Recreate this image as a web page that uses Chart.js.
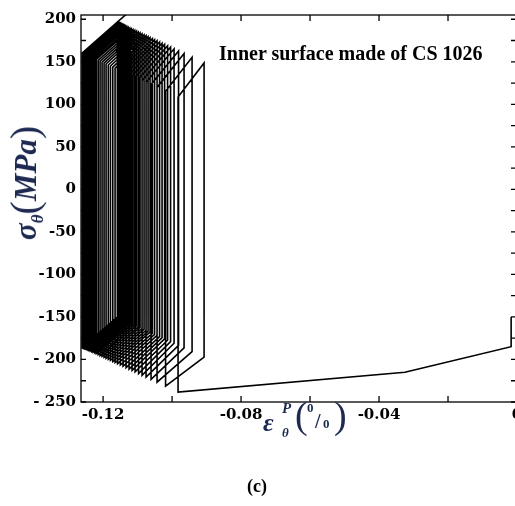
<!DOCTYPE html>
<html>
<head>
<meta charset="utf-8">
<script src="https://cdn.jsdelivr.net/npm/chart.js@4.4.1/dist/chart.umd.min.js"></script>
<style>
  html, body { margin: 0; padding: 0; background: #fff; overflow: hidden; }
  #wrap { position: relative; width: 515px; height: 506px; overflow: hidden; }
  #plot { position: absolute; left: 0; top: 0; }
  .t { position: absolute; line-height: 1; white-space: nowrap; font-family: "Liberation Serif", "Times New Roman", serif; }
  .navy { color: #1d2950; font-weight: bold; }
  .it { font-style: italic; }
  .par { font-weight: normal; }
</style>
</head>
<body>
<div id="wrap">
  <canvas id="plot" width="530" height="506"></canvas>

  <!-- annotation inside the frame -->
  <div class="t" style="left:219px; top:43px; font-size:20px; font-weight:bold; color:#000;">Inner surface made of CS 1026</div>

  <!-- y axis title: sigma_theta (MPa) -->
  <div class="t navy" style="left:23px; top:183px; transform:translate(-50%,-50%) rotate(-90deg);">
    <span class="it" style="font-size:31px;">σ</span><span class="it" style="font-size:17px; position:relative; top:7px;">θ</span><span class="par" style="font-size:40px; position:relative; top:2px;">(</span><span class="it" style="font-size:31px;">MPa</span><span class="par" style="font-size:40px; position:relative; top:2px;">)</span>
  </div>

  <!-- x axis title: epsilon_theta^P (0/0) -->
  <div class="t navy it" style="left:263px; top:410px; font-size:26px;">ε</div>
  <div class="t navy it" style="left:282px; top:401px; font-size:15px;">P</div>
  <div class="t navy it" style="left:282px; top:426px; font-size:13px;">θ</div>
  <div class="t navy par" style="left:295px; top:396px; font-size:38px;">(</div>
  <div class="t navy" style="left:307px; top:401px; font-size:13px;">0</div>
  <div class="t navy" style="left:315px; top:411px; font-size:20px;">/</div>
  <div class="t navy" style="left:323px; top:417px; font-size:13px;">0</div>
  <div class="t navy par" style="left:334px; top:396px; font-size:38px;">)</div>

  <div class="t" style="left:257px; top:477px; font-size:18px; font-weight:bold; color:#000; transform:translateX(-50%);">(c)</div>
</div>

<script>
// start of loading: yield at the bore, then the first compressive run
const firstStrain = [-0.0017, -0.0017, -0.0325];
const firstStress = [-150, -185, -215];

// cycle corners: left edge (bottom, top) and right edge (top, bottom)
const leftStrain = [
  -0.09826, -0.10188, -0.10435, -0.10609, -0.10754, -0.10870, -0.10971, -0.11072, -0.11159, -0.11246,
  -0.11333, -0.11420, -0.11499, -0.11580, -0.11652, -0.11719, -0.11786, -0.11849, -0.11913, -0.11971,
  -0.12029, -0.12087, -0.12142, -0.12197, -0.12243, -0.12290, -0.12330, -0.12368, -0.12403, -0.12435,
  -0.12464, -0.12490, -0.12513, -0.12533, -0.12551, -0.12565, -0.12580, -0.12591, -0.12600, -0.12609
];
const bottomLeftStress = [
  -238.3, -231.4, -226.7, -223.4, -220.7, -218.5, -216.5, -214.6, -212.9, -211.3,
  -209.6, -208.0, -206.5, -204.9, -203.6, -202.3, -201.0, -199.8, -198.6, -197.5,
  -196.4, -195.3, -194.2, -193.2, -192.3, -191.4, -190.7, -189.9, -189.3, -188.7,
  -188.1, -187.6, -187.2, -186.8, -186.5, -186.2, -185.9, -185.7, -185.5, -185.4
];
const topLeftStress = [
  108.6, 115.4, 119.9, 123.2, 125.9, 128.0, 129.9, 131.8, 133.4, 135.0,
  136.6, 138.2, 139.7, 141.2, 142.5, 143.8, 145.0, 146.2, 147.4, 148.5,
  149.6, 150.6, 151.6, 152.7, 153.5, 154.4, 155.1, 155.9, 156.5, 157.1,
  157.6, 158.1, 158.5, 158.9, 159.2, 159.5, 159.8, 160.0, 160.2, 160.3
];
const rightStrain = [
  -0.09072, -0.09420, -0.09652, -0.09812, -0.09942, -0.10043, -0.10130, -0.10217, -0.10290, -0.10362,
  -0.10435, -0.10507, -0.10571, -0.10638, -0.10696, -0.10754, -0.10812, -0.10870, -0.10928, -0.10980,
  -0.11032, -0.11084, -0.11133, -0.11183, -0.11229, -0.11275, -0.11316, -0.11354, -0.11388, -0.11420,
  -0.11449, -0.11475, -0.11499, -0.11519, -0.11536, -0.11551, -0.11565, -0.11577, -0.11586
];
const topRightStress = [
  148.6, 155.2, 159.7, 162.7, 165.2, 167.1, 168.8, 170.5, 171.8, 173.2,
  174.6, 176.0, 177.2, 178.5, 179.6, 180.7, 181.8, 182.9, 184.0, 185.0,
  186.0, 187.0, 188.0, 188.9, 189.8, 190.7, 191.5, 192.2, 192.8, 193.4,
  194.0, 194.5, 195.0, 195.3, 195.7, 195.9, 196.2, 196.4, 196.6
];
const bottomRightStress = [
  -197.2, -190.7, -186.3, -183.4, -180.9, -179.0, -177.4, -175.8, -174.4, -173.1,
  -171.7, -170.4, -169.2, -167.9, -166.9, -165.8, -164.7, -163.6, -162.5, -161.6,
  -160.6, -159.6, -158.7, -157.8, -156.9, -156.0, -155.3, -154.6, -153.9, -153.3,
  -152.8, -152.3, -151.9, -151.5, -151.2, -150.9, -150.6, -150.4, -150.2
];

// last tensile run leaves the frame at the top
const lastStrain = [-0.1110];
const lastStress = [214];

const xTickValues = [-0.12, -0.10, -0.08, -0.06, -0.04, -0.02, 0];
const xTickLabels = ['-0.12', '', '-0.08', '', '-0.04', '', '0'];
const yTickValues = [-250, -225, -200, -175, -150, -125, -100, -75, -50, -25, 0, 25, 50, 75, 100, 125, 150, 175, 200];
const yTickLabels = ['- 250', '', '- 200', '', '-150', '', '-100', '', '-50', '', '0', '', '50', '', '100', '', '150', '', '200'];

// chain everything into one path
const path = [];
firstStrain.forEach((e, i) => path.push({x: e, y: firstStress[i]}));
rightStrain.forEach((e, k) => {
  path.push({x: leftStrain[k], y: bottomLeftStress[k]});
  path.push({x: leftStrain[k], y: topLeftStress[k]});
  path.push({x: e, y: topRightStress[k]});
  path.push({x: e, y: bottomRightStress[k]});
});
const n = leftStrain.length - 1;
path.push({x: leftStrain[n], y: bottomLeftStress[n]});
path.push({x: leftStrain[n], y: topLeftStress[n]});
lastStrain.forEach((e, i) => path.push({x: e, y: lastStress[i]}));

// box around the plot with inward tick marks on all four sides
const frameTicks = {
  id: 'frameTicks',
  afterDatasetsDraw(chart) {
    const {ctx, chartArea: a, scales: {x, y}} = chart;
    ctx.save();
    ctx.strokeStyle = '#000';
    ctx.lineWidth = 1.3;
    ctx.strokeRect(a.left, a.top, a.right - a.left, a.bottom - a.top);
    ctx.beginPath();
    xTickValues.forEach(v => {
      const px = x.getPixelForValue(v);
      ctx.moveTo(px, a.bottom); ctx.lineTo(px, a.bottom - 6);
      ctx.moveTo(px, a.top); ctx.lineTo(px, a.top + 6);
    });
    yTickValues.forEach(v => {
      const py = y.getPixelForValue(v);
      ctx.moveTo(a.left, py); ctx.lineTo(a.left + 5, py);
      ctx.moveTo(a.right, py); ctx.lineTo(a.right - 6, py);
    });
    ctx.stroke();
    ctx.restore();
  }
};

const tickFont = {family: '"DejaVu Serif", serif', size: 15, weight: 'bold'};

new Chart(document.getElementById('plot'), {
  type: 'scatter',
  data: {
    datasets: [{
      data: path,
      showLine: true,
      borderColor: '#000',
      borderWidth: 1.6,
      pointRadius: 0,
      tension: 0
    }]
  },
  options: {
    responsive: false,
    devicePixelRatio: 1,
    animation: false,
    layout: {padding: {left: 0, top: 15, right: 13, bottom: 0}},
    plugins: {legend: {display: false}, tooltip: {enabled: false}},
    scales: {
      x: {
        type: 'linear',
        min: -0.1264,
        max: 0,
        grid: {display: false, drawTicks: false},
        border: {display: false},
        afterBuildTicks: s => { s.ticks = xTickValues.map(v => ({value: v})); },
        afterFit: s => { s.height = 104; },
        ticks: {
          autoSkip: false,
          maxRotation: 0,
          padding: 4,
          color: '#000',
          font: tickFont,
          callback: (v, i) => xTickLabels[i]
        }
      },
      y: {
        type: 'linear',
        min: -250,
        max: 205,
        grid: {display: false, drawTicks: false},
        border: {display: false},
        afterBuildTicks: s => { s.ticks = yTickValues.map(v => ({value: v})); },
        afterFit: s => { s.width = 81; },
        ticks: {
          autoSkip: false,
          padding: 5,
          color: '#000',
          font: tickFont,
          callback: (v, i) => yTickLabels[i]
        }
      }
    }
  },
  plugins: [frameTicks]
});
</script>
</body>
</html>
